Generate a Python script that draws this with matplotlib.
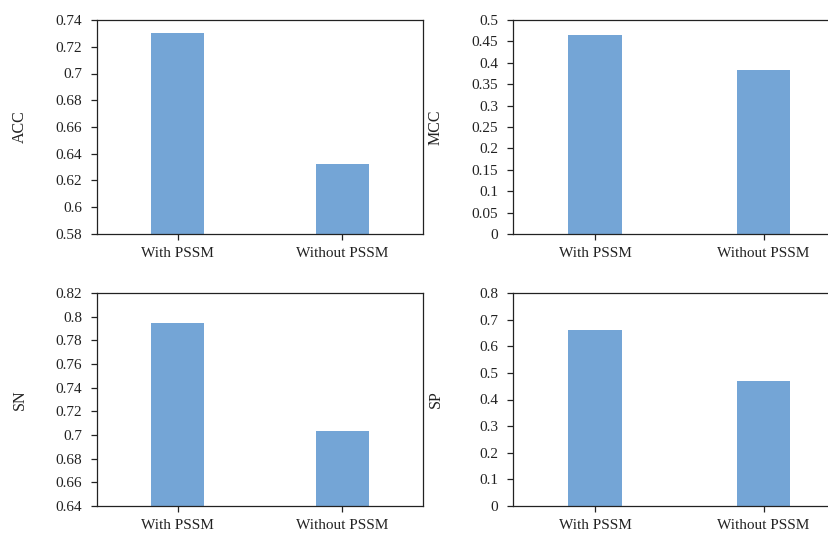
import matplotlib
matplotlib.use("Agg")
import matplotlib.pyplot as plt
import numpy as np

categories = ["With PSSM", "Without PSSM"]
acc = [0.730, 0.632]
mcc = [0.466, 0.384]
sn = [0.795, 0.703]
sp = [0.662, 0.471]

acc_ticks = [0.58, 0.6, 0.62, 0.64, 0.66, 0.68, 0.7, 0.72, 0.74]
mcc_ticks = [0, 0.05, 0.1, 0.15, 0.2, 0.25, 0.3, 0.35, 0.4, 0.45, 0.5]
sn_ticks = [0.64, 0.66, 0.68, 0.7, 0.72, 0.74, 0.76, 0.78, 0.8, 0.82]
sp_ticks = [0, 0.1, 0.2, 0.3, 0.4, 0.5, 0.6, 0.7, 0.8]

plt.rcParams['font.family'] = ['Liberation Serif', 'DejaVu Serif']

W, H = 829, 535
fig = plt.figure(figsize=(W / 100, H / 100), dpi=100)

def ax_at(x0, y0, x1, y1):
    return fig.add_axes([x0 / W, 1 - y1 / H, (x1 - x0) / W, (y1 - y0) / H])

panels = [
    ((97, 20, 423, 234), acc, acc_ticks, "ACC", 28, False),
    ((513, 20, 846, 234), mcc, mcc_ticks, "MCC", 444, True),
    ((97, 293, 423, 506), sn, sn_ticks, "SN", 28, False),
    ((513, 293, 846, 506), sp, sp_ticks, "SP", 444, True),
]

color = "#74A5D6"
for (x0, y0, x1, y1), vals, ticks, label, lx, cut in panels:
    ax = ax_at(x0, y0, x1, y1)
    x = np.arange(len(categories))
    ax.bar(x, vals, width=0.32, color=color)
    ax.set_xlim(-0.49, 1.49)
    ax.set_ylim(ticks[0], ticks[-1])
    ax.set_yticks(ticks)
    ax.set_yticklabels([f"{t:g}" for t in ticks])
    ax.set_xticks(x)
    ax.set_xticklabels(categories)
    ax.tick_params(axis='both', direction='out', labelsize=11, width=0.9,
                   colors='#222222', labelcolor='#222222')
    ax.tick_params(axis='y', length=4.5, pad=6)
    ax.tick_params(axis='x', length=4.5, pad=5)
    for s in ax.spines.values():
        s.set_linewidth(0.9)
        s.set_color('#222222')
    if cut:
        ax.spines['right'].set_visible(False)
    ax.set_ylabel(label, fontsize=11.5, color='#222222')
    ax.yaxis.set_label_coords((lx - x0) / (x1 - x0), 0.5)

fig.savefig("out.png", dpi=100)
